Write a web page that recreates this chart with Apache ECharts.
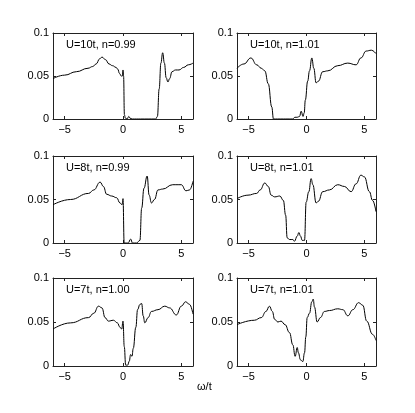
<!DOCTYPE html>
<html><head><meta charset="utf-8">
<script src="https://cdn.jsdelivr.net/npm/echarts@6/dist/echarts.min.js"></script>
<style>html,body{margin:0;padding:0;background:#fff}#c{width:415px;height:413px}</style>
</head><body><div id="c"></div>
<script>
// ---- data ----
const titles = ['U=10t, n=0.99','U=10t, n=1.01','U=8t, n=0.99','U=8t, n=1.01','U=7t, n=1.00','U=7t, n=1.01'];
const xTicks = [-5, 0, 5];
const yTicks = [0, 0.05, 0.1];

const p1x = [-6,-5,-4,-3,-2.6,-2.3,-2.0,-1.8,-1.5,-1.2,-0.9,-0.6,-0.45,-0.3,-0.15,-0.05,0.0,0.05,0.12,0.2,0.35,0.5,0.6,0.8,1.5,2.8,2.95,3.1,3.25,3.4,3.55,3.7,3.85,4.0,4.2,4.5,4.8,5.2,5.6,6.0];
const p1y = [0.047,0.051,0.055,0.059,0.061,0.064,0.070,0.072,0.069,0.064,0.062,0.060,0.058,0.053,0.050,0.050,0.057,0.050,0.005,0.001,0.000,0.003,0.001,0.000,0.000,0.000,0.003,0.035,0.065,0.077,0.065,0.048,0.043,0.047,0.055,0.057,0.057,0.060,0.063,0.065];

const p2x = [-6,-5.4,-4.8,-4.3,-3.9,-3.6,-3.3,-3.0,-2.85,-2.5,-1.5,-1.2,-1.0,-0.8,-0.6,-0.46,-0.3,-0.2,-0.1,0.1,0.26,0.46,0.63,0.83,1.03,1.4,1.84,2.7,3.56,4.28,4.7,5.15,5.6,6.0];
const p2y = [0.059,0.064,0.071,0.063,0.059,0.056,0.041,0.014,0.000,0.000,0.000,0.000,0.002,0.002,0.003,0.009,0.003,0.007,0.022,0.044,0.056,0.071,0.059,0.042,0.044,0.055,0.056,0.062,0.065,0.063,0.071,0.079,0.080,0.076];

const p3x = [-6,-4.5,-2.95,-2.5,-1.96,-1.68,-1.4,-0.97,-0.54,-0.26,-0.08,0.0,0.1,0.3,0.45,0.65,0.82,1.16,1.45,1.6,1.8,2.07,2.24,2.44,2.7,3.0,3.4,4.26,5.0,5.4,5.7,6.0];
const p3y = [0.044,0.050,0.057,0.061,0.070,0.065,0.056,0.054,0.052,0.046,0.044,0.051,0.000,0.000,0.000,0.0045,0.000,0.000,0.003,0.040,0.063,0.077,0.055,0.046,0.050,0.061,0.062,0.067,0.067,0.060,0.061,0.071];

const p4x = [-6,-5.05,-4.3,-4.0,-3.6,-3.3,-3.05,-2.75,-2.3,-2.0,-1.8,-1.67,-1.47,-1.18,-1.04,-0.8,-0.66,-0.52,-0.37,-0.17,-0.03,0.2,0.4,0.55,0.83,1.03,1.4,1.98,2.7,3.27,3.85,4.28,4.7,5.0,5.43,5.7,6.0];
const p4y = [0.051,0.055,0.057,0.061,0.069,0.065,0.055,0.053,0.054,0.049,0.032,0.006,0.004,0.004,0.002,0.008,0.012,0.008,0.003,0.003,0.047,0.059,0.074,0.067,0.046,0.048,0.059,0.061,0.067,0.065,0.059,0.068,0.078,0.076,0.059,0.049,0.036];

const p5x = [-6,-4.5,-2.95,-2.5,-2.1,-1.8,-1.54,-1.25,-0.82,-0.48,-0.26,-0.11,0.0,0.11,0.23,0.4,0.54,0.65,0.77,0.88,1.1,1.25,1.45,1.6,1.73,1.87,2.15,2.44,3.0,3.58,4.0,4.57,5.0,5.37,5.7,6.0];
const p5y = [0.042,0.049,0.055,0.060,0.068,0.066,0.055,0.051,0.052,0.049,0.044,0.042,0.051,0.022,0.001,0.001,0.0055,0.013,0.011,0.020,0.044,0.064,0.070,0.071,0.057,0.049,0.055,0.062,0.064,0.068,0.066,0.058,0.068,0.073,0.070,0.059];

const p6x = [-6,-4.5,-3.9,-3.5,-3.2,-2.95,-2.75,-2.47,-2.2,-1.85,-1.47,-1.18,-0.98,-0.8,-0.7,-0.52,-0.32,-0.17,-0.06,0.06,0.26,0.46,0.58,0.69,0.92,1.2,1.55,1.98,2.7,3.14,3.57,4.0,4.5,4.86,5.2,5.7,6.0];
const p6y = [0.047,0.052,0.055,0.062,0.068,0.062,0.053,0.050,0.051,0.047,0.038,0.024,0.011,0.021,0.015,0.007,0.005,0.015,0.033,0.055,0.060,0.073,0.076,0.067,0.050,0.055,0.062,0.063,0.065,0.064,0.057,0.064,0.072,0.069,0.051,0.036,0.029];

const panelsX = [p1x,p2x,p3x,p4x,p5x,p6x];
const panelsY = [p1y,p2y,p3y,p4y,p5y,p6y];

// ---- layout ----
const colLeft = [53, 237], colWidth = [140, 139];
const rowTop = [33, 156, 278], rowHeight = [86, 87, 88];
const FONT = '"Liberation Sans", Arial, Helvetica, sans-serif';
const AX = '#222';

const grids = [], xAxes = [], yAxes = [], series = [], graphics = [];
const minus = v => (v < 0 ? '\u2212' + (-v) : String(v));
for (let i = 0; i < 6; i++) {
  const r = Math.floor(i / 2), c = i % 2;
  grids.push({left: colLeft[c], top: rowTop[r], width: colWidth[c], height: rowHeight[r], containLabel: false});
  const tick = {show: true, inside: true, length: 3, lineStyle: {color: AX, width: 1}};
  xAxes.push({type: 'value', gridIndex: i, min: -6, max: 6, position: 'bottom',
    axisLine: {show: true, onZero: false, lineStyle: {color: AX, width: 1}},
    axisTick: Object.assign({customValues: xTicks}, tick),
    axisLabel: {customValues: xTicks, formatter: minus, color: '#000', fontSize: 11, fontFamily: FONT, margin: 5},
    splitLine: {show: false}});
  xAxes.push({type: 'value', gridIndex: i, min: -6, max: 6, position: 'top',
    axisLine: {show: true, onZero: false, lineStyle: {color: AX, width: 1}},
    axisTick: Object.assign({customValues: xTicks}, tick),
    axisLabel: {show: false}, splitLine: {show: false}});
  yAxes.push({type: 'value', gridIndex: i, min: 0, max: 0.1, interval: 0.05, position: 'left',
    axisLine: {show: true, onZero: false, lineStyle: {color: AX, width: 1}},
    axisTick: tick,
    axisLabel: {color: '#000', fontSize: 11, fontFamily: FONT, margin: 4},
    splitLine: {show: false}});
  yAxes.push({type: 'value', gridIndex: i, min: 0, max: 0.1, interval: 0.05, position: 'right',
    axisLine: {show: true, onZero: false, lineStyle: {color: AX, width: 1}},
    axisTick: tick, axisLabel: {show: false}, splitLine: {show: false}});
  series.push({type: 'line', xAxisIndex: 2 * i, yAxisIndex: 2 * i,
    data: panelsX[i].map((x, k) => [x, panelsY[i][k]]),
    showSymbol: false, smooth: 0.45, smoothMonotone: 'x',
    lineStyle: {color: '#000', width: 1}, silent: true, animation: false});
  graphics.push({type: 'text', left: colLeft[c] + 13, top: rowTop[r] + 12 - 6,
    style: {text: titles[i], fill: '#000', font: '11px ' + FONT}});
}
graphics.push({type: 'text', left: 197, top: 381, style: {text: 'ω/t', fill: '#000', font: '11px ' + FONT}});

const chart = echarts.init(document.getElementById('c'), null, {renderer: 'canvas'});
chart.setOption({animation: false, grid: grids, xAxis: xAxes, yAxis: yAxes, series: series, graphic: graphics});
</script></body></html>
